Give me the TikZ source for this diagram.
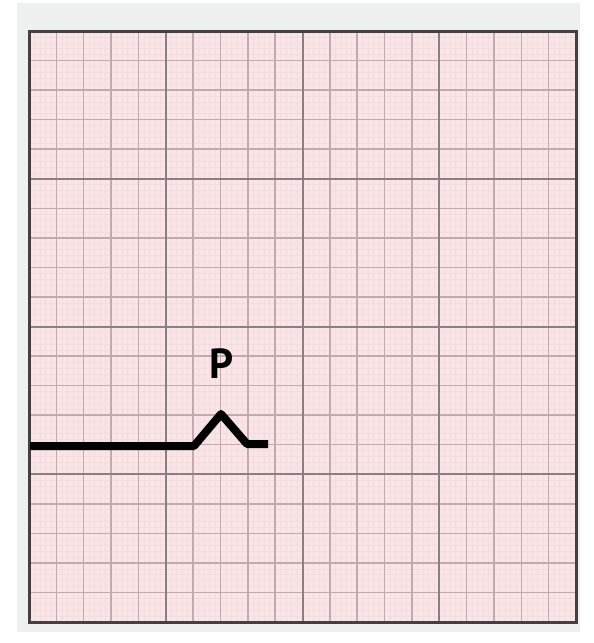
\documentclass[tikz,border=0pt]{standalone}
\usepackage{fontspec}
\newfontfamily\labelfont{PT Sans}
\definecolor{paper}{HTML}{F9E5E6}
\definecolor{outerbg}{HTML}{EEF0F0}
\definecolor{finecol}{HTML}{F3DCDE}
\definecolor{medcol}{HTML}{C2A9AE}
\definecolor{majcol}{HTML}{8C7D81}
\definecolor{framecol}{HTML}{463F41}
\tikzset{
  fineline/.style={draw=finecol, line width=0.5pt},
  medline/.style={draw=medcol, line width=1.5pt},
  majline/.style={draw=majcol, line width=2pt},
  framebox/.style={draw=framecol, line width=3pt},
  trace/.style={draw=black, line width=8pt, line join=round, line cap=butt},
  plabel/.style={font=\labelfont\bfseries\fontsize{42}{42}\selectfont, inner sep=0pt}
}
\begin{document}
\begin{tikzpicture}[x=1pt,y=-1pt]
\useasboundingbox (0,0) rectangle (594,643);
\fill[white] (0,0) rectangle (594,643);
\fill[outerbg] (17,3) rectangle (580,632);
\fill[paper] (29,31) rectangle (576,622);
% fine grid
\foreach \i in {1,...,99} {
  \draw[fineline] ({29+\i*5.47},31) -- ({29+\i*5.47},622);
  \draw[fineline] (29,{31+\i*5.91}) -- (576,{31+\i*5.91});
}
% medium grid
\foreach \i in {1,...,19} {
  \draw[medline] ({29+\i*27.35},31) -- ({29+\i*27.35},622);
  \draw[medline] (29,{31+\i*29.55}) -- (576,{31+\i*29.55});
}
% major grid
\foreach \i in {1,2,3} {
  \draw[majline] ({29+\i*136.75},31) -- ({29+\i*136.75},622);
  \draw[majline] (29,{31+\i*147.75}) -- (576,{31+\i*147.75});
}
\draw[framebox] (29,31) rectangle (576,622);
% trace
\coordinate (start) at (30,446);
\coordinate (rise) at (194,446);
\coordinate (peak) at (221,414);
\coordinate (fall) at (247,444);
\coordinate (stop) at (268,444);
\draw[trace] (start) -- (rise) -- (peak) -- (fall) -- (stop);
\node[plabel] (P) at (222,364) {P};
\end{tikzpicture}
\end{document}
